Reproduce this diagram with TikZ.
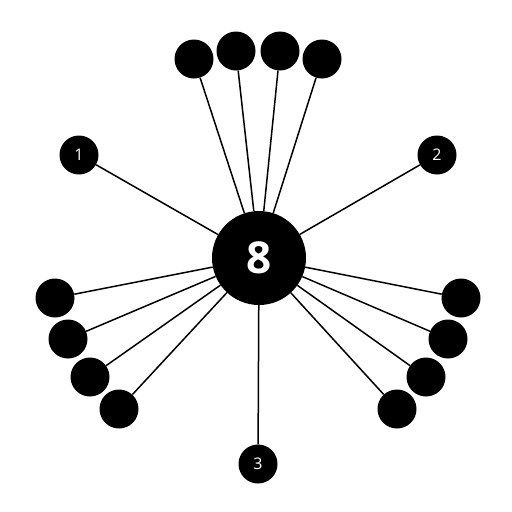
\documentclass[tikz,border=0pt]{standalone}
\usepackage{fontspec}
\setmainfont{Open Sans}
\begin{document}
\begin{tikzpicture}[x=1pt,y=-1pt,
  dot/.style={circle,fill=black,draw=none,minimum size=39pt,inner sep=0pt},
  numdot/.style={circle,fill=black,draw=none,minimum size=39pt,inner sep=0pt,text=white,font=\fontsize{16}{16}\selectfont},
  hub/.style={circle,fill=black,draw=none,minimum size=94pt,inner sep=0pt,text=white,font=\fontsize{44}{44}\selectfont\bfseries},
  spoke/.style={line width=1.5pt,black}]
\useasboundingbox (0,0) rectangle (512,512);
\node[hub] (c) at (259,258) {8};
\node[dot] (t1) at (194,59) {};
\node[dot] (t2) at (236,51) {};
\node[dot] (t3) at (280,51) {};
\node[dot] (t4) at (322,59) {};
\node[dot] (l1) at (55,298) {};
\node[dot] (l2) at (68,339) {};
\node[dot] (l3) at (90,377) {};
\node[dot] (l4) at (119,409) {};
\node[dot] (r1) at (461,298) {};
\node[dot] (r2) at (448,339) {};
\node[dot] (r3) at (426,377) {};
\node[dot] (r4) at (397,409) {};
\node[numdot] (n1) at (79,155) {1};
\node[numdot] (n2) at (437,155) {2};
\node[numdot] (n3) at (258,464) {3};
\foreach \n in {t1,t2,t3,t4,l1,l2,l3,l4,r1,r2,r3,r4,n1,n2,n3}
  \draw[spoke] (c) -- (\n);
\end{tikzpicture}
\end{document}
